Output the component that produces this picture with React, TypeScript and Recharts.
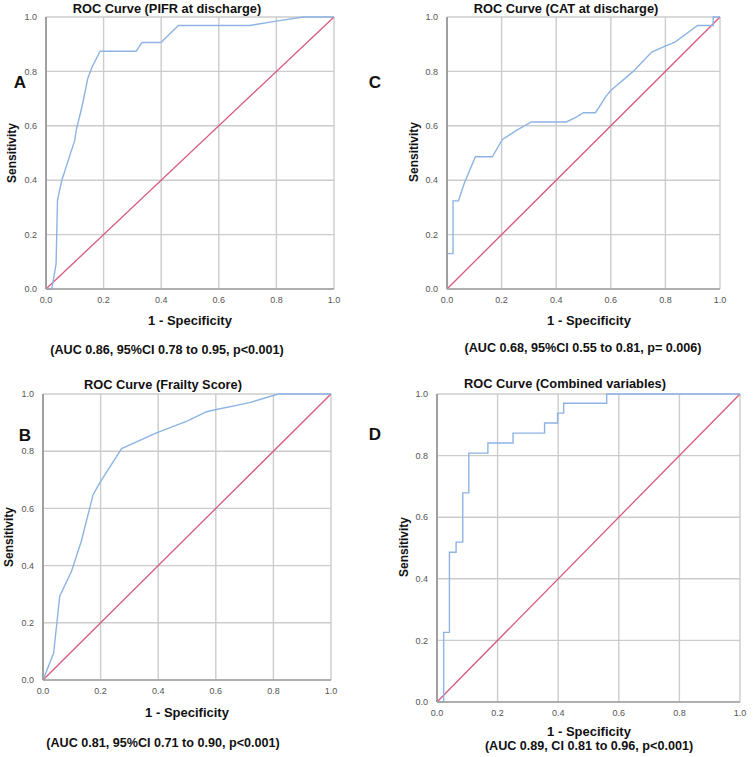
import React from 'react';
import { LineChart, Line, XAxis, YAxis, CartesianGrid } from 'recharts';

// tick positions shared by both axes of every panel
const axisTicks = [0, 0.2, 0.4, 0.6, 0.8, 1.0];

// reference line
const diagFpr = [0, 1];
const diagTpr = [0, 1];

// A: PIFR at discharge
const pifrFpr = [0, 0.02, 0.035, 0.04, 0.055, 0.1, 0.105, 0.125, 0.145, 0.16, 0.188, 0.313, 0.333, 0.399, 0.46, 0.708, 0.8, 0.893, 1.0];
const pifrTpr = [0, 0, 0.092, 0.327, 0.4, 0.547, 0.584, 0.67, 0.774, 0.816, 0.874, 0.874, 0.906, 0.906, 0.969, 0.969, 0.985, 1.0, 1.0];

// C: CAT at discharge
const catFpr = [0, 0, 0.022, 0.022, 0.042, 0.063, 0.104, 0.166, 0.203, 0.256, 0.309, 0.437, 0.47, 0.5, 0.544, 0.583, 0.6, 0.682, 0.75, 0.793, 0.835, 0.918, 0.975, 0.975, 1.0];
const catTpr = [0, 0.13, 0.13, 0.324, 0.324, 0.388, 0.486, 0.486, 0.55, 0.584, 0.614, 0.614, 0.63, 0.648, 0.648, 0.709, 0.73, 0.8, 0.871, 0.89, 0.908, 0.969, 0.969, 1.0, 1.0];

// B: Frailty score
const frailFpr = [0, 0.037, 0.058, 0.099, 0.133, 0.174, 0.197, 0.273, 0.394, 0.5, 0.568, 0.602, 0.718, 0.817, 1.0];
const frailTpr = [0, 0.094, 0.293, 0.38, 0.485, 0.648, 0.689, 0.809, 0.864, 0.905, 0.938, 0.946, 0.97, 1.0, 1.0];

// D: Combined variables
const combFpr = [0, 0.022, 0.022, 0.041, 0.041, 0.063, 0.063, 0.085, 0.085, 0.105, 0.105, 0.168, 0.168, 0.251, 0.251, 0.355, 0.355, 0.398, 0.398, 0.418, 0.418, 0.56, 0.56, 1.0];
const combTpr = [0, 0, 0.226, 0.226, 0.486, 0.486, 0.519, 0.519, 0.679, 0.679, 0.808, 0.808, 0.841, 0.841, 0.873, 0.873, 0.906, 0.906, 0.938, 0.938, 0.97, 0.97, 1.0, 1.0];

const FONT = '"Liberation Sans", Arial, sans-serif';
const BLUE = '#8db4e3';
const RED = '#d65a7c';

const toPoints = (xs: number[], ys: number[]) => xs.map((x, i) => ({ x, y: ys[i] }));

interface PanelProps {
  left: number;
  top: number;
  width: number;
  height: number;
  fpr: number[];
  tpr: number[];
}

const RocPanel: React.FC<PanelProps> = ({ left, top, width, height, fpr, tpr }) => {
  const tickStyle = { fontSize: 9, fill: '#555', fontFamily: FONT };
  return (
    <div style={{ position: 'absolute', left, top }}>
      <LineChart width={width} height={height} margin={{ top: 5, right: 10, bottom: 0, left: 0 }}>
        <CartesianGrid stroke="#cccccc" strokeWidth={1.4} />
        <XAxis
          type="number"
          dataKey="x"
          domain={[0, 1]}
          ticks={axisTicks}
          interval={0}
          tickFormatter={(v: number) => v.toFixed(1)}
          tickLine={false}
          tickMargin={2}
          axisLine={{ stroke: '#a0a0a0', strokeWidth: 1.5 }}
          tick={tickStyle}
          height={20}
        />
        <YAxis
          type="number"
          domain={[0, 1]}
          ticks={axisTicks}
          interval={0}
          tickFormatter={(v: number) => v.toFixed(1)}
          tickLine={false}
          tickMargin={3}
          axisLine={{ stroke: '#a0a0a0', strokeWidth: 2 }}
          tick={tickStyle}
          width={30}
        />
        <Line data={toPoints(diagFpr, diagTpr)} dataKey="y" stroke={RED} strokeWidth={1.3} dot={false} isAnimationActive={false} />
        <Line data={toPoints(fpr, tpr)} dataKey="y" stroke={BLUE} strokeWidth={1.4} dot={false} isAnimationActive={false} />
      </LineChart>
    </div>
  );
};

const Txt: React.FC<{ x: number; y: number; size: number; children: React.ReactNode; rotate?: boolean }> = ({ x, y, size, children, rotate }) => (
  <div
    style={{
      position: 'absolute',
      left: x,
      top: y,
      transform: `translate(-50%, -50%)${rotate ? ' rotate(-90deg)' : ''}`,
      whiteSpace: 'nowrap',
      fontFamily: FONT,
      fontWeight: 'bold',
      fontSize: size,
      color: '#111',
      lineHeight: 1,
    }}
  >
    {children}
  </div>
);

export default function App() {
  return (
    <div style={{ position: 'absolute', left: 0, top: 0, width: 753, height: 757, background: '#fff', overflow: 'hidden' }}>
      {/* A */}
      <RocPanel left={16} top={12} width={328} height={297} fpr={pifrFpr} tpr={pifrTpr} />
      <Txt x={167} y={9} size={12.8}>ROC Curve (PIFR at discharge)</Txt>
      <Txt x={20} y={82} size={17}>A</Txt>
      <Txt x={12} y={153} size={12} rotate>Sensitivity</Txt>
      <Txt x={190} y={320} size={13}>1 - Specificity</Txt>
      <Txt x={167} y={350} size={12.6}>(AUC 0.86, 95%CI 0.78 to 0.95, p&lt;0.001)</Txt>

      {/* C */}
      <RocPanel left={417} top={12} width={313} height={297} fpr={catFpr} tpr={catTpr} />
      <Txt x={566} y={9} size={12.8}>ROC Curve (CAT at discharge)</Txt>
      <Txt x={375} y={82} size={17}>C</Txt>
      <Txt x={414} y={152} size={12} rotate>Sensitivity</Txt>
      <Txt x={589} y={320} size={13}>1 - Specificity</Txt>
      <Txt x={583} y={348} size={12.6}>(AUC 0.68, 95%CI 0.55 to 0.81, p= 0.006)</Txt>

      {/* B */}
      <RocPanel left={13} top={389} width={328} height={311} fpr={frailFpr} tpr={frailTpr} />
      <Txt x={163} y={385} size={12.8}>ROC Curve (Frailty Score)</Txt>
      <Txt x={25} y={435} size={17}>B</Txt>
      <Txt x={9} y={537} size={12} rotate>Sensitivity</Txt>
      <Txt x={187} y={712} size={13}>1 - Specificity</Txt>
      <Txt x={163} y={743} size={12.6}>(AUC 0.81, 95%CI 0.71 to 0.90, p&lt;0.001)</Txt>

      {/* D */}
      <RocPanel left={407} top={389} width={343} height={333} fpr={combFpr} tpr={combTpr} />
      <Txt x={565} y={384} size={12.8}>ROC Curve (Combined variables)</Txt>
      <Txt x={375} y={434} size={17}>D</Txt>
      <Txt x={404} y={547} size={12} rotate>Sensitivity</Txt>
      <Txt x={589} y={731} size={13}>1 - Specificity</Txt>
      <Txt x={589} y={746} size={12.6}>(AUC 0.89, CI 0.81 to 0.96, p&lt;0.001)</Txt>
    </div>
  );
}
